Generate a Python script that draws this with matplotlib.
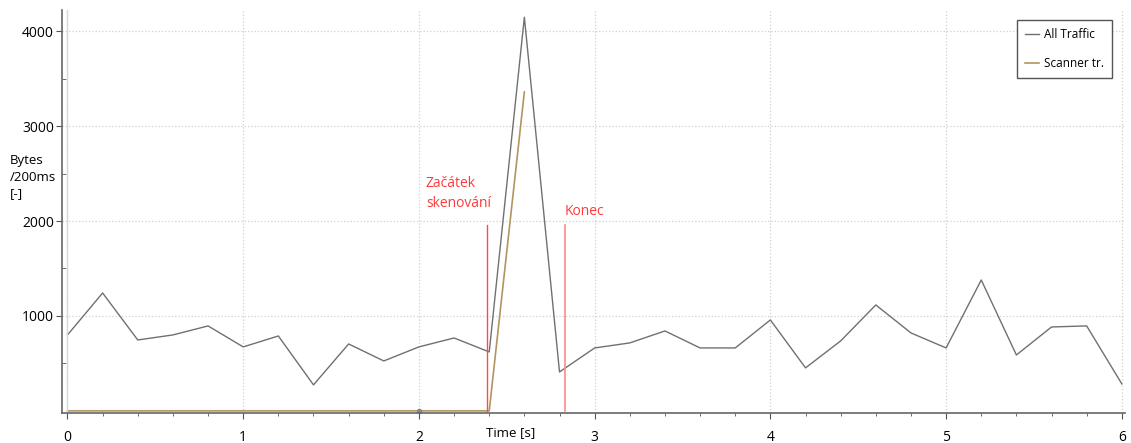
import numpy as np
import matplotlib.pyplot as plt
import matplotlib.transforms as mtransforms

# time axis, one sample every 200 ms
time_s = [0.0, 0.2, 0.4, 0.6, 0.8, 1.0, 1.2, 1.4, 1.6, 1.8, 2.0, 2.2, 2.4, 2.6, 2.8,
          3.0, 3.2, 3.4, 3.6, 3.8, 4.0, 4.2, 4.4, 4.6, 4.8, 5.0, 5.2, 5.4, 5.6, 5.8, 6.0]
all_traffic = [800, 1242, 747, 800, 895, 674, 789, 274, 705, 526, 674, 768, 621, 4147, 410,
               663, 716, 842, 663, 663, 958, 453, 737, 1116, 821, 663, 1379, 589, 884, 895, 284]
scanner_time = [0.0, 0.2, 0.4, 0.6, 0.8, 1.0, 1.2, 1.4, 1.6, 1.8, 2.0, 2.2, 2.4, 2.6]
scanner_traffic = [0, 0, 0, 0, 0, 0, 0, 0, 0, 0, 0, 0, 0, 3360]

start_time = 2.385
end_time = 2.834
marker_height = 1960
yticks = [1000, 2000, 3000, 4000]
xticks = [0, 1, 2, 3, 4, 5, 6]

plt.rcParams['font.family'] = ['Open Sans', 'DejaVu Sans']

fig = plt.figure(figsize=(11.31, 4.43), dpi=100)
ax = fig.add_axes([0.055, 0.068, 0.94, 0.909])

ax.plot(time_s, all_traffic, color='#707070', lw=1.0, label='All Traffic')
ax.plot(scanner_time, scanner_traffic, color='#b09560', lw=1.2, label='Scanner tr.')
ax.plot([2.0], [0], 'o', ms=3, color='#888888')

# start / end of scan
ax.plot([start_time, start_time], [0, marker_height], color='#ff4a4a', lw=1.0)
ax.plot([end_time, end_time], [0, marker_height], color='#ff8a8a', lw=1.2)
ax.text(2.04, 2150, 'Začátek\nskenování', color='#ff3a3a', fontsize=10, linespacing=1.45)
ax.text(2.83, 2060, 'Konec', color='#ff3a3a', fontsize=10)

ax.set_xlim(-0.03, 6.02)
ax.set_ylim(-21, 4221)
ax.set_xticks(xticks)
ax.set_xticklabels([str(t) for t in xticks])
ax.set_xticks(np.arange(0, 6.01, 0.2), minor=True)
ax.set_yticks(yticks)
ax.set_yticks([500, 1500, 2500, 3500], minor=True)
ax.tick_params(axis='x', which='major', length=4, pad=8, labelsize=10, color='#555555')
ax.tick_params(axis='x', which='minor', length=2, color='#555555')
ax.tick_params(axis='y', which='major', length=4, pad=2, labelsize=10, color='#555555')
ax.tick_params(axis='y', which='minor', length=3, direction='in', color='#555555')
ax.grid(True, which='major', color='#d0d0d0', ls=':', lw=0.9)
ax.axvline(0, color='#d8d8d8', lw=1.0)

for side in ['top', 'right']:
    ax.spines[side].set_visible(False)
for side in ['left', 'bottom']:
    ax.spines[side].set_color('#666666')
    ax.spines[side].set_linewidth(1.2)

trans = mtransforms.blended_transform_factory(ax.transData, ax.transAxes)
ax.text(2.38, -0.05, 'Time [s]', transform=trans, fontsize=9.5, va='center', ha='left')
fig.text(0.009, 0.6, 'Bytes\n/200ms\n[-]', fontsize=9.5, va='center', ha='left', linespacing=1.35)

leg = ax.legend(loc='upper right', bbox_to_anchor=(0.993, 0.99), fontsize=8.5,
                fancybox=False, edgecolor='#555555', handlelength=1.2, handletextpad=0.4,
                borderpad=0.7, labelspacing=1.3, framealpha=1)
leg.get_frame().set_linewidth(1.0)

fig.savefig('out.png', dpi=100)
